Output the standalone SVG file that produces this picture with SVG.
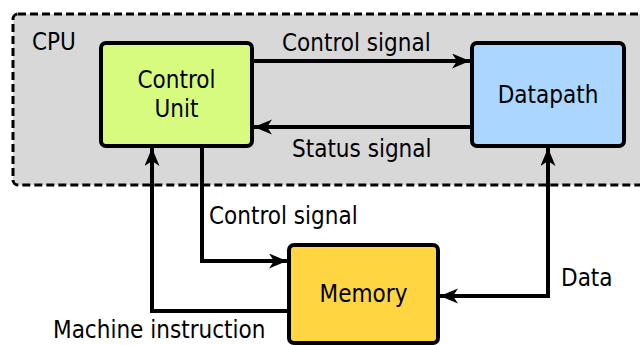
<svg xmlns="http://www.w3.org/2000/svg" width="640" height="345" viewBox="0 0 640 345">
<style>
text{font-family:"DejaVu Sans Condensed","DejaVu Sans",sans-serif;font-stretch:condensed;font-size:24px;fill:#000}
.box{stroke:#000;stroke-width:4}
.c{text-anchor:middle}
.wire{fill:none;stroke:#000;stroke-width:4}
</style>
<defs>
<marker id="ah" markerUnits="userSpaceOnUse" markerWidth="22" markerHeight="16" refX="20" refY="7.5" orient="auto-start-reverse">
<path d="M0,0 L18,7.5 L0,15 L5,7.5 z" fill="#000"/>
</marker>
</defs>
<g id="cpu">
<rect x="13" y="14" width="660" height="171" rx="5" fill="#d8d8d8" stroke="#000" stroke-width="3" stroke-dasharray="8,4"/>
<text x="32" y="50">CPU</text>
</g>
<g id="connectors">
<path class="wire" d="M252,61 H472" marker-end="url(#ah)"/>
<path class="wire" d="M472,127 H252" marker-end="url(#ah)"/>
<path class="wire" d="M289,311 H152 V146" marker-end="url(#ah)"/>
<path class="wire" d="M202,146 V261 H289" marker-end="url(#ah)"/>
<path class="wire" d="M438,296 H548 V146" marker-start="url(#ah)" marker-end="url(#ah)"/>
<text x="282" y="51">Control signal</text>
<text x="292" y="157">Status signal</text>
<text x="209" y="224">Control signal</text>
<text x="561" y="286">Data</text>
<text x="53" y="338">Machine instruction</text>
</g>
<g id="control-unit">
<rect class="box" x="101" y="43" width="151" height="103" rx="5" fill="#d6fb7f"/>
<text class="c" x="176.5" y="88">Control</text>
<text class="c" x="176.5" y="117">Unit</text>
</g>
<g id="datapath">
<rect class="box" x="472" y="43" width="152" height="103" rx="5" fill="#aad6ff"/>
<text class="c" x="548" y="103">Datapath</text>
</g>
<g id="memory">
<rect class="box" x="289" y="245" width="149" height="98" rx="5" fill="#ffd642"/>
<text class="c" x="363.5" y="302">Memory</text>
</g>
</svg>
